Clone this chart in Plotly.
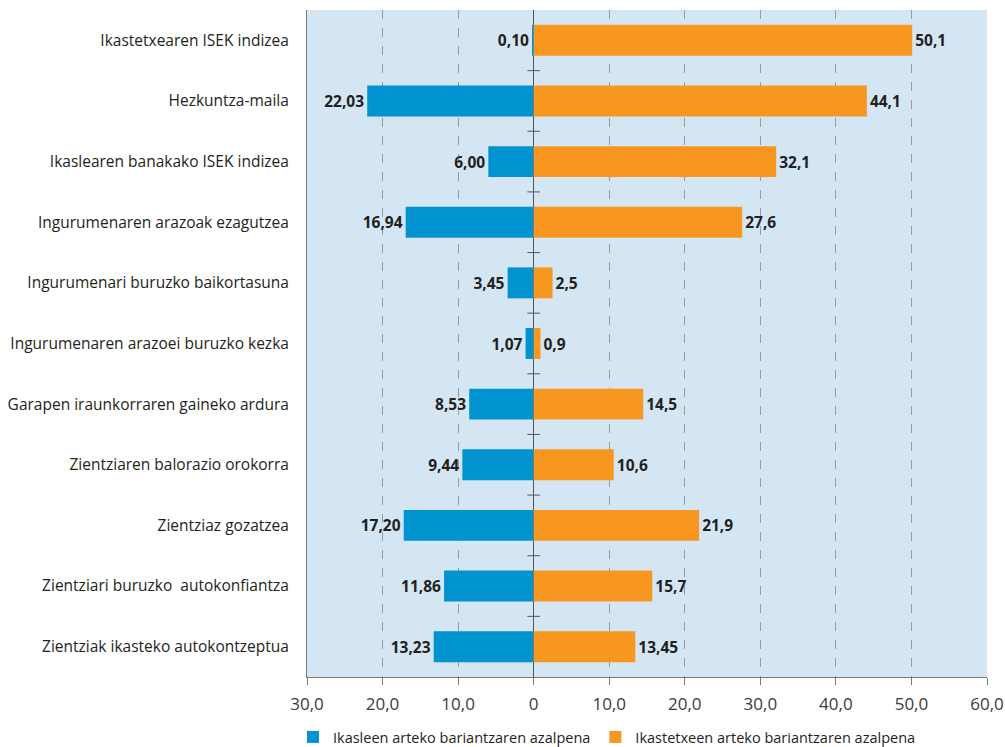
import plotly.graph_objects as go

categories = [
    "Ikastetxearen ISEK indizea",
    "Hezkuntza-maila",
    "Ikaslearen banakako ISEK indizea",
    "Ingurumenaren arazoak ezagutzea",
    "Ingurumenari buruzko baikortasuna",
    "Ingurumenaren arazoei buruzko kezka",
    "Garapen iraunkorraren gaineko ardura",
    "Zientziaren balorazio orokorra",
    "Zientziaz gozatzea",
    "Zientziari buruzko  autokonfiantza",
    "Zientziak ikasteko autokontzeptua",
]
students = [0.10, 22.03, 6.00, 16.94, 3.45, 1.07, 8.53, 9.44, 17.20, 11.86, 13.23]
students_text = ["0,10", "22,03", "6,00", "16,94", "3,45", "1,07", "8,53", "9,44", "17,20", "11,86", "13,23"]
schools = [50.1, 44.1, 32.1, 27.6, 2.5, 0.9, 14.5, 10.6, 21.9, 15.7, 13.45]
schools_text = ["50,1", "44,1", "32,1", "27,6", "2,5", "0,9", "14,5", "10,6", "21,9", "15,7", "13,45"]
x_ticks = [-30, -20, -10, 0, 10, 20, 30, 40, 50, 60]
x_ticktext = ["30,0", "20,0", "10,0", "0", "10,0", "20,0", "30,0", "40,0", "50,0", "60,0"]

FONT = "Open Sans"
n = len(categories)
ypos = list(range(n - 1, -1, -1))  # first category at the top

fig = go.Figure()
fig.add_bar(
    y=ypos, x=[-v for v in students], orientation="h", width=0.51,
    marker=dict(color="#0093d0", line=dict(width=0)),
    text=students_text, textposition="outside", cliponaxis=False,
    textfont=dict(family=FONT, size=15.5, color="#231f20", weight="bold"),
    name="Ikasleen arteko bariantzaren azalpena", hoverinfo="skip",
)
fig.add_bar(
    y=ypos, x=schools, orientation="h", width=0.51,
    marker=dict(color="#f7971f", line=dict(width=0)),
    text=schools_text, textposition="outside", cliponaxis=False,
    textfont=dict(family=FONT, size=15.5, color="#231f20", weight="bold"),
    name="Ikastetxeen arteko bariantzaren azalpena", hoverinfo="skip",
)
# small tick marks on the zero line between categories
fig.add_scatter(
    x=[0] * (n - 1), y=[i + 0.5 for i in range(n - 1)], mode="markers",
    marker=dict(symbol="line-ew", size=9, line=dict(color="#555555", width=1)),
    showlegend=False, hoverinfo="skip",
)

fig.update_layout(
    width=1005, height=747,
    margin=dict(l=307, r=18, t=10, b=70),
    barmode="overlay",
    plot_bgcolor="#d4e6f4", paper_bgcolor="white",
    font=dict(family=FONT, color="#231f20"),
    legend=dict(
        orientation="h", xref="container", x=0.2915, xanchor="left",
        yref="container", y=0.0134, yanchor="middle",
        font=dict(family=FONT, size=14.5, color="#231f20"),
        bgcolor="rgba(0,0,0,0)", tracegroupgap=0,
    ),
)
fig.update_xaxes(
    range=[-30, 60], tickvals=x_ticks, ticktext=x_ticktext,
    tickfont=dict(family=FONT, size=17, color="#3a3a3a"),
    showgrid=True, gridcolor="#9a9a9a", griddash="dash", gridwidth=1,
    zeroline=True, zerolinecolor="#555555", zerolinewidth=1,
    showline=True, linecolor="#7a7a7a", linewidth=1,
    ticks="outside", ticklen=7, tickcolor="#7a7a7a", automargin=False,
    ticklabelstandoff=5, ticklabeloverflow="allow",
)
fig.update_yaxes(
    range=[-0.5, n - 0.5], tickvals=ypos, ticktext=categories,
    tickfont=dict(family=FONT, size=15.5, color="#231f20"),
    showgrid=False, zeroline=False,
    showline=True, linecolor="#7a7a7a", linewidth=1,
    ticks="", ticklabelstandoff=14, automargin=False,
)

# drop the default 8px page margin so the figure fills the window exactly
fig.write_html(
    "out.html",
    config={"displayModeBar": False},
    post_script="document.body.style.margin='0';",
)
